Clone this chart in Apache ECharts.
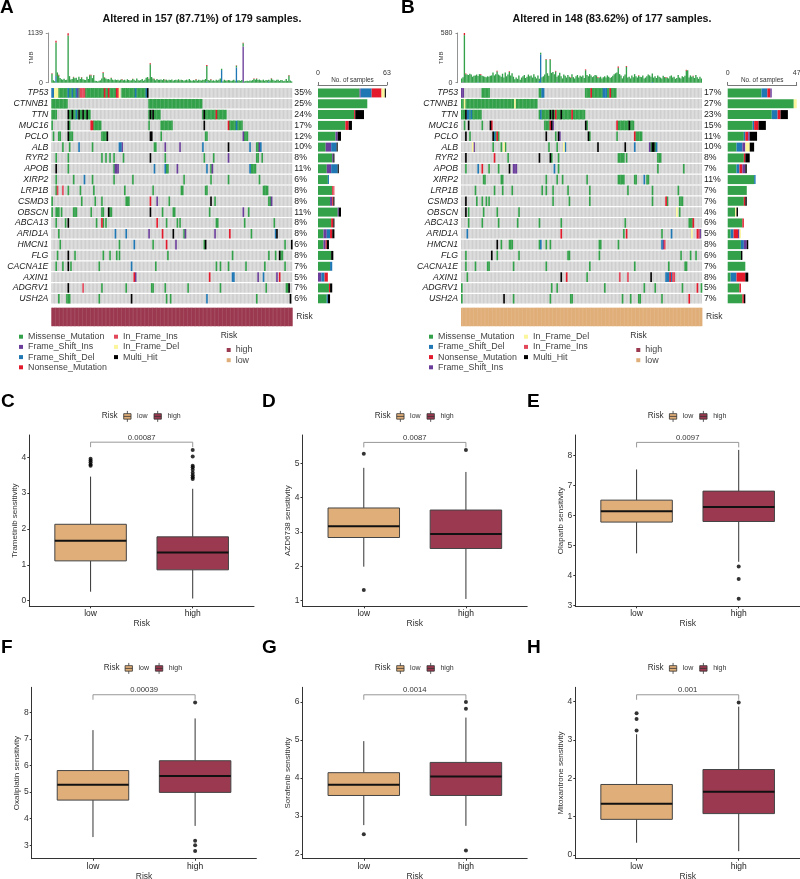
<!DOCTYPE html>
<html>
<head>
<meta charset="utf-8">
<title>Mutation landscape and drug sensitivity</title>
<style>
html, body { margin: 0; background: #fff; }
#main { width: 800px; height: 879px; }
</style>
<script src="https://cdn.jsdelivr.net/npm/echarts@6/dist/echarts.min.js"></script>
</head>
<body>
<div id="main"></div>
<script>
var genes = ["TP53","CTNNB1","TTN","MUC16","PCLO","ALB","RYR2","APOB","XIRP2","LRP1B","CSMD3","OBSCN","ABCA13","ARID1A","HMCN1","FLG","CACNA1E","AXIN1","ADGRV1","USH2A"];
var pctA = ["35%","25%","24%","17%","12%","10%","8%","11%","6%","8%","8%","11%","8%","8%","6%","8%","7%","5%","7%","6%"];
var pctB = ["17%","27%","23%","15%","11%","10%","8%","7%","11%","7%","7%","4%","6%","5%","8%","6%","7%","8%","5%","7%"];
var sampleCountA = 179;
var sampleCountB = 177;

// M missense, I frame ins, D frame del, N nonsense, F in frame ins, E in frame del, H multi hit
var typeNames = { M: "Missense_Mutation", I: "Frame_Shift_Ins", D: "Frame_Shift_Del", N: "Nonsense_Mutation", F: "In_Frame_Ins", E: "In_Frame_Del", H: "Multi_Hit" };
var typeColors = { M: "#33a04a", I: "#6a3d9a", D: "#1f78b4", N: "#e31a2c", F: "#e2475a", E: "#fbf59b", H: "#000000" };
var stackOrderA = ["M","I","D","N","F","E","H"];
var stackOrderB = ["M","D","N","I","F","E","H"];

// one list per gene, each run is [first sample, number of samples, type]
var mutA = [
  [[0,2,"D"],[2,3,"E"],[5,7,"M"],[12,1,"D"],[13,2,"M"],[15,1,"D"],[16,2,"M"],[18,1,"D"],[19,1,"I"],[20,1,"M"],[21,4,"F"],[25,14,"M"],[39,1,"N"],[40,2,"M"],[42,1,"N"],[43,5,"M"],[48,2,"N"],[50,1,"E"],[52,10,"M"],[62,1,"D"],[63,7,"M"],[70,1,"D"],[71,1,"H"]],
  [[0,12,"M"],[72,40,"M"]],
  [[0,4,"M"],[12,1,"H"],[13,2,"M"],[15,1,"H"],[16,2,"M"],[18,1,"D"],[19,1,"M"],[20,1,"H"],[21,2,"M"],[23,1,"H"],[24,2,"M"],[26,1,"H"],[27,2,"M"],[72,1,"M"],[73,1,"H"],[74,1,"M"],[75,1,"H"],[76,5,"M"],[112,1,"M"],[113,1,"H"],[114,8,"M"],[122,1,"N"],[123,7,"M"]],
  [[0,1,"M"],[12,1,"H"],[13,1,"M"],[29,2,"N"],[31,6,"M"],[72,1,"M"],[81,9,"M"],[113,1,"H"],[131,1,"N"],[132,5,"M"],[137,1,"D"],[138,4,"M"]],
  [[1,1,"M"],[5,2,"M"],[12,1,"H"],[13,3,"M"],[37,4,"M"],[41,1,"H"],[73,2,"H"],[81,1,"M"],[114,2,"M"],[142,1,"I"],[143,3,"M"]],
  [[8,1,"M"],[13,1,"M"],[20,1,"D"],[30,1,"M"],[50,2,"D"],[52,1,"I"],[76,2,"M"],[84,1,"I"],[95,1,"I"],[112,1,"D"],[131,1,"H"],[147,1,"D"],[152,2,"M"],[154,1,"I"],[155,1,"D"]],
  [[3,1,"M"],[12,1,"M"],[37,1,"M"],[40,1,"M"],[43,1,"M"],[46,1,"M"],[53,1,"M"],[73,1,"H"],[84,1,"M"],[113,1,"M"],[120,1,"M"],[131,1,"I"],[152,2,"M"],[156,1,"M"]],
  [[3,1,"H"],[12,1,"M"],[46,1,"M"],[47,3,"I"],[76,1,"D"],[84,1,"D"],[85,2,"M"],[93,1,"I"],[115,1,"D"],[118,1,"M"],[119,1,"I"],[147,1,"D"],[148,4,"M"]],
  [[3,1,"M"],[16,1,"M"],[24,1,"D"],[30,1,"M"],[46,1,"M"],[60,1,"M"],[98,1,"M"],[118,1,"M"],[131,1,"M"],[154,1,"M"]],
  [[3,1,"M"],[4,1,"F"],[8,1,"F"],[12,1,"M"],[21,1,"M"],[31,1,"M"],[54,1,"M"],[75,1,"M"],[96,2,"M"],[114,2,"M"],[157,4,"M"]],
  [[0,1,"M"],[22,1,"M"],[32,1,"M"],[37,1,"M"],[55,3,"M"],[73,1,"N"],[78,1,"I"],[87,1,"M"],[118,1,"H"],[121,1,"M"],[161,2,"M"],[163,1,"I"]],
  [[0,1,"M"],[3,3,"M"],[7,1,"M"],[16,3,"M"],[29,1,"M"],[37,2,"M"],[42,1,"H"],[43,2,"M"],[73,1,"H"],[82,1,"M"],[90,2,"M"],[117,1,"M"],[142,1,"I"],[146,1,"M"]],
  [[3,1,"M"],[10,1,"M"],[12,1,"H"],[33,1,"M"],[37,1,"N"],[38,1,"M"],[40,1,"M"],[78,1,"N"],[85,1,"M"],[93,1,"M"],[95,1,"M"],[122,2,"M"],[143,1,"M"],[165,1,"M"]],
  [[5,1,"M"],[47,1,"D"],[55,1,"D"],[72,1,"I"],[82,1,"N"],[90,1,"H"],[98,1,"M"],[99,1,"I"],[121,1,"I"],[132,1,"N"],[148,1,"M"],[166,1,"D"],[167,1,"H"]],
  [[6,1,"M"],[50,1,"M"],[61,1,"D"],[75,1,"M"],[85,1,"N"],[92,1,"I"],[113,1,"M"],[114,1,"H"],[173,1,"M"],[178,1,"H"]],
  [[4,1,"M"],[12,1,"H"],[17,1,"M"],[38,1,"M"],[43,1,"M"],[48,1,"M"],[50,1,"M"],[86,1,"M"],[134,1,"M"],[161,1,"M"],[166,1,"M"],[169,1,"H"],[170,2,"M"]],
  [[3,1,"M"],[8,1,"M"],[12,1,"H"],[14,1,"M"],[35,1,"M"],[59,1,"D"],[77,1,"M"],[122,1,"M"],[125,1,"M"],[131,1,"M"],[144,1,"M"],[158,1,"M"],[173,1,"M"]],
  [[61,1,"N"],[62,1,"I"],[117,1,"N"],[134,2,"D"],[153,1,"I"],[157,1,"D"],[167,1,"I"],[169,1,"N"]],
  [[12,1,"H"],[23,1,"F"],[37,1,"M"],[55,1,"M"],[74,2,"M"],[84,1,"M"],[101,1,"M"],[125,1,"M"],[159,1,"M"],[174,2,"M"],[176,1,"H"]],
  [[5,1,"M"],[11,3,"M"],[35,1,"M"],[59,1,"H"],[85,1,"M"],[88,1,"M"],[115,1,"D"],[152,1,"M"],[177,1,"H"]]
];
var mutB = [
  [[0,2,"I"],[15,6,"M"],[57,2,"M"],[59,2,"D"],[91,4,"M"],[95,1,"N"],[96,8,"M"],[104,3,"D"],[107,2,"M"],[109,1,"N"],[110,4,"M"]],
  [[0,2,"M"],[2,1,"E"],[3,36,"M"],[39,1,"E"],[40,16,"M"]],
  [[0,3,"M"],[3,1,"H"],[4,2,"D"],[6,1,"M"],[7,1,"D"],[8,7,"M"],[57,1,"M"],[58,1,"D"],[59,6,"M"],[65,1,"H"],[66,1,"M"],[67,1,"H"],[68,1,"M"],[69,1,"N"],[70,3,"M"],[73,1,"H"],[74,7,"M"],[81,1,"N"],[82,9,"M"]],
  [[2,1,"M"],[5,1,"H"],[15,1,"M"],[21,1,"H"],[22,1,"N"],[61,4,"M"],[65,1,"N"],[66,1,"H"],[67,1,"I"],[91,1,"H"],[92,1,"M"],[114,1,"N"],[115,8,"M"],[123,1,"H"],[124,3,"M"]],
  [[3,1,"H"],[6,1,"M"],[23,1,"H"],[24,1,"D"],[25,1,"M"],[26,1,"N"],[27,1,"M"],[62,1,"H"],[69,1,"M"],[71,1,"H"],[72,1,"I"],[93,1,"H"],[94,1,"M"],[114,1,"M"],[127,1,"N"],[128,5,"M"]],
  [[8,1,"E"],[9,1,"I"],[23,1,"M"],[29,1,"M"],[31,1,"E"],[32,1,"M"],[64,1,"M"],[70,1,"M"],[75,1,"E"],[76,1,"D"],[100,1,"H"],[120,1,"H"],[127,1,"D"],[138,1,"I"],[139,1,"M"],[140,2,"H"],[142,1,"M"],[143,1,"D"]],
  [[3,1,"H"],[24,1,"N"],[34,1,"M"],[57,1,"H"],[65,1,"H"],[66,1,"M"],[71,1,"M"],[115,5,"M"],[121,1,"M"],[144,3,"M"]],
  [[3,1,"M"],[12,1,"D"],[15,1,"N"],[20,1,"M"],[27,1,"M"],[35,1,"H"],[38,3,"I"],[68,1,"D"],[71,1,"M"],[144,1,"M"],[163,1,"M"]],
  [[16,2,"M"],[29,2,"M"],[62,1,"M"],[70,1,"M"],[74,1,"M"],[92,1,"M"],[115,5,"M"],[127,2,"M"],[134,1,"D"],[136,2,"M"]],
  [[10,1,"M"],[24,1,"M"],[30,1,"M"],[37,1,"M"],[59,1,"M"],[62,1,"M"],[67,1,"M"],[78,1,"M"],[94,1,"M"],[122,1,"M"],[140,1,"M"],[159,1,"M"]],
  [[3,1,"H"],[11,1,"M"],[15,1,"M"],[18,1,"M"],[20,1,"M"],[67,1,"M"],[79,1,"M"],[94,1,"M"],[140,1,"M"],[150,1,"N"],[151,1,"M"],[160,3,"M"]],
  [[3,1,"H"],[5,1,"M"],[16,1,"M"],[26,1,"M"],[42,1,"M"],[158,1,"E"],[160,1,"M"]],
  [[5,1,"M"],[15,1,"M"],[27,1,"M"],[41,1,"M"],[57,1,"M"],[73,1,"M"],[120,1,"M"],[167,3,"M"],[170,1,"N"]],
  [[4,1,"D"],[73,1,"N"],[119,1,"M"],[121,1,"N"],[147,1,"M"],[154,1,"D"],[169,1,"E"],[173,1,"N"],[174,1,"F"],[175,1,"I"]],
  [[26,1,"H"],[29,1,"M"],[35,3,"M"],[57,1,"M"],[58,1,"D"],[62,1,"M"],[65,1,"M"],[101,2,"M"],[115,1,"M"],[147,1,"D"],[148,1,"I"],[149,1,"F"]],
  [[3,1,"M"],[22,1,"H"],[26,1,"M"],[42,1,"M"],[78,2,"M"],[101,1,"M"],[161,1,"M"],[168,1,"M"],[172,1,"M"]],
  [[3,1,"M"],[10,1,"M"],[19,2,"M"],[38,1,"M"],[62,1,"M"],[94,1,"M"],[127,1,"M"],[152,1,"M"],[164,2,"M"]],
  [[4,1,"M"],[73,1,"H"],[77,1,"N"],[92,1,"M"],[116,1,"F"],[122,1,"F"],[139,1,"H"],[150,3,"D"],[153,1,"N"],[154,1,"D"],[155,2,"F"]],
  [[0,1,"M"],[66,1,"M"],[70,1,"M"],[105,1,"M"],[134,1,"M"],[142,1,"M"],[162,1,"M"],[173,1,"N"],[176,1,"M"]],
  [[0,1,"M"],[31,1,"H"],[38,1,"M"],[65,1,"M"],[80,2,"M"],[118,1,"M"],[124,1,"M"],[130,2,"M"],[147,1,"M"],[167,1,"N"]]
];

// samples per gene and type, side bars
var countsA = {
  M: [38,45,33,25,16,7,13,8,9,13,11,18,12,5,5,12,11,0,10,8],
  I: [1,0,0,0,2,5,1,4,0,0,2,1,0,3,2,0,0,3,0,0],
  D: [10,0,0,0,0,5,0,6,1,0,0,0,0,3,0,0,2,3,0,1],
  N: [9,0,1,3,0,0,0,0,0,1,1,0,2,2,1,0,0,3,1,0],
  F: [0,0,0,0,0,0,0,0,0,1,0,0,0,0,0,0,0,0,0,0],
  E: [3,0,0,0,0,0,0,0,0,0,0,0,0,0,0,0,0,0,0,0],
  H: [1,0,8,3,3,1,1,1,0,0,1,2,1,2,2,2,0,0,2,2]
};
var countsB = {
  M: [23,45,30,17,11,6,11,6,18,13,11,5,10,2,9,9,12,2,8,10],
  D: [4,0,4,1,1,4,0,2,1,0,0,0,0,2,2,0,0,4,0,0],
  N: [2,0,2,3,2,0,1,2,0,0,1,0,1,3,0,0,0,6,1,1],
  I: [1,0,0,0,1,2,0,2,0,0,0,0,0,1,2,0,0,0,0,0],
  F: [0,0,0,0,0,0,0,0,0,0,0,0,0,0,0,0,0,0,0,0],
  E: [0,2,0,0,0,3,0,0,0,0,0,1,0,1,0,0,0,0,0,0],
  H: [0,0,5,5,5,3,3,1,0,0,1,1,0,0,1,1,0,2,0,1]
};

// mutation load per sample, missense part
var tmbGreenA = [
  205,55,35,770,235,165,105,80,70,90,
  60,65,1080,150,75,85,125,100,115,65,
  135,85,120,80,65,60,135,85,170,170,
  105,170,45,40,30,45,55,95,225,115,
  95,80,85,65,105,70,55,75,60,65,
  50,70,75,55,65,45,80,60,50,55,
  85,65,45,95,55,50,60,85,45,65,
  115,130,85,420,130,95,80,55,85,65,
  70,75,60,85,55,70,50,65,60,75,
  45,60,70,55,80,50,65,60,45,55,
  70,50,85,55,40,60,50,75,45,65,
  55,50,70,60,85,355,60,50,75,45,
  55,40,65,50,70,95,30,35,65,50,
  45,60,55,40,50,65,45,40,50,55,
  40,60,75,30,40,45,35,50,45,60,
  85,70,90,60,75,55,50,70,45,60,
  55,40,50,95,65,50,45,65,70,40,
  60,55,35,45,85,40,165,50,30
];
var tmbGreenB = [
  50,55,555,100,95,90,105,95,70,80,
  85,95,70,100,90,80,75,70,65,75,
  70,80,85,120,85,100,130,95,85,70,
  105,60,120,75,95,125,85,110,70,40,
  60,45,85,35,60,75,90,55,70,95,
  75,85,60,100,70,50,85,25,20,65,
  75,95,270,110,80,270,115,125,100,130,
  60,85,115,75,50,95,80,60,90,70,
  55,100,65,50,75,90,60,80,70,85,
  55,145,90,75,100,85,65,75,90,85,
  55,60,70,50,65,75,60,85,70,55,
  65,80,100,110,120,175,100,85,50,75,
  95,185,60,70,50,85,65,100,75,60,
  80,70,65,85,50,60,75,95,85,70,
  100,60,75,55,85,70,60,50,80,65,
  55,60,50,75,85,60,70,45,55,90,
  60,50,75,65,80,140,145,60,85,70,
  75,55,90,65,45,70,50
];
// other classes stacked with the missense part, [sample, value]
var tmbBlueA = [[3,154],[115,30],[126,290],[137,350],[161,30]];
var tmbPurpleA = [[142,830]];
var tmbRedA = [[0,10],[3,36],[5,15],[12,55],[16,10],[22,10],[28,12],[29,10],[31,8],[38,15],[39,10],[44,10],[52,10],[60,8],[72,8],[73,25],[76,10],[84,10],[95,8],[107,10],[115,20],[118,8],[130,8],[137,8],[142,10],[150,10],[152,8],[163,8],[176,10]];
var tmbBlueB = [[57,20],[58,330],[12,8],[140,8]];
var tmbPurpleB = [[1,8],[70,8]];
var tmbRedB = [[2,25],[3,8],[14,8],[26,8],[35,8],[62,8],[65,8],[69,8],[80,6],[91,10],[100,8],[115,15],[121,10],[130,8],[150,8],[165,10],[170,6]];
var tmbTicksA = [0, 1139];
var tmbTicksB = [0, 580];

var riskGroups = ["low", "high"];
var riskColors = { low: "#e0ae78", high: "#9b3950" };

// whisker low, q1, median, q3, whisker high
var trametinibLow = [0.25,1.11,1.67,2.13,3.46];
var trametinibHigh = [0.06,0.86,1.34,1.78,3.12];
var trametinibOutLow = [3.76,3.8,3.86,3.91,3.96];
var trametinibOutHigh = [3.39,3.44,3.5,3.57,3.65,3.72,3.76,4.02,4.2];
var azdLow = [1.99,2.84,3.17,3.7,4.87];
var azdHigh = [1.05,2.52,2.94,3.64,4.75];
var azdOutLow = [1.31,5.28];
var azdOutHigh = [5.39];
var olaparibLow = [4.74,5.78,6.14,6.51,7.53];
var olaparibHigh = [4.46,5.8,6.28,6.81,8.18];
var olaparibOutLow = [];
var olaparibOutHigh = [3.23,3.89,4.3];
var oxaliplatinLow = [3.31,4.7,5.28,5.81,7.33];
var oxaliplatinHigh = [3.73,4.99,5.61,6.18,7.77];
var oxaliplatinOutLow = [];
var oxaliplatinOutHigh = [2.79,3.0,3.17,8.37];
var sorafenibLow = [2.76,3.54,3.82,4.14,4.97];
var sorafenibHigh = [2.74,3.54,4.04,4.41,5.59];
var sorafenibOutLow = [2.52];
var sorafenibOutHigh = [2.09,5.82,6.0];
var mitoxantroneLow = [0.32,0.93,1.34,1.84,3.15];
var mitoxantroneHigh = [0.1,1.08,1.65,2.23,3.87];
var mitoxantroneOutLow = [3.25,3.55,3.7];
var mitoxantroneOutHigh = [3.98];

var FONT = '"Liberation Sans", Arial, sans-serif';
var boxIcon = "path://M1 3H9V9H1Z M5 0V3 M5 9V12 M1 6H9";

var chart = echarts.init(document.getElementById("main"), null, { renderer: "canvas" });
var grids = [], xAxes = [], yAxes = [], series = [], legends = [], texts = [];

function addGrid(box) {
  // v6 would otherwise squeeze a grid whose axis name reaches the page edge
  box.outerBoundsMode = "none";
  grids.push(box);
  return grids.length - 1;
}

function addText(text, x, y, size, opts) {
  opts = opts || {};
  texts.push({
    type: "text", x: x, y: y, silent: true,
    style: { text: text, fontFamily: FONT, fontSize: size, fontWeight: opts.weight || "normal", fill: opts.color || "#333",
      textAlign: opts.align || "left", textVerticalAlign: "middle" }
  });
}

// widen is added to the cell width: negative leaves a faint gap, positive closes it
function cellRender(color, inset, widen) {
  return function (params, api) {
    var c = api.coord([api.value(0), api.value(1)]);
    var s = api.size([1, 1]);
    return {
      type: "rect",
      shape: { x: c[0] - s[0] / 2, y: c[1] - s[1] / 2 + inset, width: s[0] + widen, height: s[1] - inset * 2 },
      style: { fill: color }
    };
  };
}

function sparse(pairs, n) {
  var out = new Array(n).fill(0);
  pairs.forEach(function (p) { out[p[0]] = p[1]; });
  return out;
}

function oncoPanel(p) {
  var samples = [];
  for (var i = 0; i < p.n; i++) samples.push(String(i));

  // TMB bars on top
  var g = addGrid({ left: p.left, top: 33, width: 241, height: 49.7 });
  xAxes.push({ gridIndex: g, type: "category", data: samples, axisLine: { show: false }, axisTick: { show: false }, axisLabel: { show: false } });
  yAxes.push({
    gridIndex: g, type: "value", min: 0, max: p.tmbTicks[1], offset: 3.5,
    name: "TMB", nameLocation: "middle", nameGap: 13.5, nameMoveOverlap: false, nameTextStyle: { fontFamily: FONT, fontSize: 6, color: "#444" },
    splitLine: { show: false },
    axisLine: { show: true, lineStyle: { color: "#777", width: 0.8 } },
    axisTick: { show: true, length: 2, lineStyle: { color: "#777", width: 0.8 }, customValues: p.tmbTicks },
    axisLabel: { fontFamily: FONT, fontSize: 7, color: "#333", margin: 5, customValues: p.tmbTicks, formatter: function (v) { return String(v); } }
  });
  [["I", p.tmbPurple], ["D", p.tmbBlue], ["M", null], ["N", p.tmbRed]].forEach(function (t) {
    series.push({
      type: "bar", name: typeNames[t[0]], xAxisIndex: g, yAxisIndex: yAxes.length - 1, stack: "tmb" + p.key, barWidth: 1.35, silent: true,
      data: t[1] ? sparse(t[1], p.n) : p.tmbGreen, itemStyle: { color: typeColors[t[0]] }
    });
  });

  // mutation matrix
  g = addGrid({ left: p.left, top: 87.5, width: 241, height: 216.7 });
  xAxes.push({ gridIndex: g, type: "category", data: samples, axisLine: { show: false }, axisTick: { show: false }, axisLabel: { show: false } });
  var yIdx = yAxes.length;
  yAxes.push({
    gridIndex: g, type: "category", data: genes, inverse: true, axisLine: { show: false }, axisTick: { show: false },
    axisLabel: { fontFamily: FONT, fontSize: 8.7, fontStyle: "italic", color: "#222", margin: 3, interval: 0 }
  });
  yAxes.push({
    gridIndex: g, type: "category", data: p.pct, inverse: true, position: "right", axisLine: { show: false }, axisTick: { show: false },
    axisLabel: { fontFamily: FONT, fontSize: 8.7, color: "#222", margin: 2, interval: 0 }
  });

  var cells = { M: [], I: [], D: [], N: [], F: [], E: [], H: [] };
  var taken = {};
  p.mut.forEach(function (runs, row) {
    runs.forEach(function (r) {
      for (var k = r[0]; k < r[0] + r[1] && k < p.n; k++) {
        cells[r[2]].push([k, row]);
        taken[k + "_" + row] = true;
      }
    });
  });
  var blanks = [];
  genes.forEach(function (gene, row) {
    for (var k = 0; k < p.n; k++) {
      if (!taken[k + "_" + row]) blanks.push([k, row]);
    }
  });
  series.push({ type: "custom", name: "none", xAxisIndex: g, yAxisIndex: yIdx, data: blanks, silent: true, progressive: 0, renderItem: cellRender("#cfcfcf", 0.6, -0.1) });
  Object.keys(cells).forEach(function (t) {
    series.push({
      type: "custom", name: typeNames[t], xAxisIndex: g, yAxisIndex: yIdx, data: cells[t], silent: true, progressive: 0,
      itemStyle: { color: typeColors[t] }, renderItem: cellRender(typeColors[t], 0.6, 0.3)
    });
  });

  // samples per gene on the right
  g = addGrid({ left: p.barLeft, top: 87.5, width: 69, height: 216.7 });
  xAxes.push({
    gridIndex: g, type: "value", position: "top", min: 0, max: p.barMax, interval: p.barMax, offset: 2.5,
    name: "No. of samples", nameLocation: "middle", nameGap: 2.1, nameMoveOverlap: false, nameTextStyle: { fontFamily: FONT, fontSize: 6.4, color: "#333" },
    splitLine: { show: false },
    axisLine: { show: true, lineStyle: { color: "#555", width: 0.8 } },
    axisTick: { show: true, length: 3, lineStyle: { color: "#555", width: 0.8 } },
    axisLabel: { fontFamily: FONT, fontSize: 7, color: "#333", margin: 8 }
  });
  yAxes.push({ gridIndex: g, type: "category", data: genes, inverse: true, axisLine: { show: false }, axisTick: { show: false }, axisLabel: { show: false } });
  p.stackOrder.forEach(function (t) {
    series.push({
      type: "bar", name: typeNames[t], xAxisIndex: xAxes.length - 1, yAxisIndex: yAxes.length - 1, stack: "count" + p.key, barWidth: 9, silent: true,
      data: p.counts[t], itemStyle: { color: typeColors[t] }
    });
  });

  // risk annotation band
  g = addGrid({ left: p.left, top: 307.7, width: 241, height: 18.5 });
  xAxes.push({ gridIndex: g, type: "category", data: samples, axisLine: { show: false }, axisTick: { show: false }, axisLabel: { show: false } });
  yAxes.push({
    gridIndex: g, type: "category", data: ["Risk"], position: "right", axisLine: { show: false }, axisTick: { show: false },
    axisLabel: { fontFamily: FONT, fontSize: 8.5, color: "#333", margin: 4 }
  });
  series.push({
    type: "custom", name: p.risk, xAxisIndex: g, yAxisIndex: yAxes.length - 1, silent: true, progressive: 0,
    data: samples.map(function (s, i) { return [i, 0]; }),
    itemStyle: { color: riskColors[p.risk] }, renderItem: cellRender(riskColors[p.risk], 0, 0.4)
  });

  addText(p.title, p.titleX, 19, 10.7, { weight: "bold", align: "center", color: "#111" });
  addText("Risk", p.riskX, 336, 8.5);
  p.legendCols.forEach(function (col, n) {
    legends.push({
      left: p.legendX[n], top: 331.7, orient: "vertical", padding: 0, itemWidth: 4, itemHeight: 4, itemGap: 0.2, icon: "rect", selectedMode: false,
      data: col.map(function (t) { return typeNames[t]; }),
      textStyle: { fontFamily: FONT, fontSize: 8.9, color: "#444", height: 10, lineHeight: 10 }
    });
  });
  legends.push({
    left: p.riskX + 6, top: 345, orient: "vertical", padding: 0, itemWidth: 4, itemHeight: 4, itemGap: 0.2, icon: "rect", selectedMode: false,
    data: ["high", "low"],
    textStyle: { fontFamily: FONT, fontSize: 8.9, color: "#444", height: 10, lineHeight: 10 }
  });
}

function boxRender(color) {
  return function (params, api) {
    var x = api.value(0);
    var lo = api.coord([x, api.value(1)]);
    var q1 = api.coord([x, api.value(2)]);
    var med = api.coord([x, api.value(3)]);
    var q3 = api.coord([x, api.value(4)]);
    var hi = api.coord([x, api.value(5)]);
    var w = api.size([0.7, 0])[0];
    var line = { stroke: "#333", lineWidth: 1 };
    return {
      type: "group",
      children: [
        { type: "line", shape: { x1: lo[0], y1: lo[1], x2: lo[0], y2: q1[1] }, style: line },
        { type: "line", shape: { x1: hi[0], y1: hi[1], x2: hi[0], y2: q3[1] }, style: line },
        { type: "rect", shape: { x: q3[0] - w / 2, y: q3[1], width: w, height: q1[1] - q3[1] }, style: { fill: color, stroke: "#444", lineWidth: 1 } },
        { type: "line", shape: { x1: med[0] - w / 2, y1: med[1], x2: med[0] + w / 2, y2: med[1] }, style: { stroke: "#111", lineWidth: 2 } }
      ]
    };
  };
}

function bracketRender(label) {
  return function (params, api) {
    var a = api.coord([api.value(0), api.value(2)]);
    var b = api.coord([api.value(1), api.value(2)]);
    return {
      type: "group",
      children: [
        { type: "polyline", shape: { points: [[a[0], a[1] + 5], a, b, [b[0], b[1] + 5]] }, style: { stroke: "#8c8c8c", lineWidth: 0.9, fill: "none" } },
        { type: "text", x: (a[0] + b[0]) / 2, y: a[1] - 0.5, style: { text: label, fontFamily: FONT, fontSize: 7.7, fill: "#333", textAlign: "center", textVerticalAlign: "bottom" } }
      ]
    };
  };
}

function boxPanel(p) {
  var g = addGrid({ left: p.left, top: p.top, width: 224.7, height: p.height });
  xAxes.push({
    gridIndex: g, type: "value", min: 0.4, max: 2.6,
    name: "Risk", nameLocation: "middle", nameGap: 13, nameMoveOverlap: false, nameTextStyle: { fontFamily: FONT, fontSize: 8.5, color: "#333" },
    splitLine: { show: false },
    axisLine: { show: true, onZero: false, lineStyle: { color: "#333", width: 1 } },
    axisTick: { show: true, length: 2, lineStyle: { color: "#333" }, customValues: [1, 2] },
    axisLabel: {
      fontFamily: FONT, fontSize: 8.5, color: "#222", margin: 3, customValues: [1, 2],
      formatter: function (v) { return riskGroups[v - 1]; }
    }
  });
  yAxes.push({
    gridIndex: g, type: "value", min: p.range[0], max: p.range[1],
    name: p.yName, nameLocation: "middle", nameGap: 11, nameMoveOverlap: false, nameTextStyle: { fontFamily: FONT, fontSize: 8, color: "#333" },
    splitLine: { show: false },
    axisLine: { show: true, onZero: false, lineStyle: { color: "#333", width: 1 } },
    axisTick: { show: true, length: 2, lineStyle: { color: "#333" }, customValues: p.ticks },
    axisLabel: { fontFamily: FONT, fontSize: 8.5, color: "#333", margin: 3, customValues: p.ticks }
  });
  var a = xAxes.length - 1, b = yAxes.length - 1;
  riskGroups.forEach(function (group, n) {
    series.push({
      type: "custom", name: group, xAxisIndex: a, yAxisIndex: b, silent: true,
      encode: { x: 0, y: [1, 2, 3, 4, 5] },
      data: [[n + 1].concat(p.boxes[n])],
      itemStyle: { color: riskColors[group] },
      renderItem: boxRender(riskColors[group])
    });
    series.push({
      type: "scatter", name: group + " outliers", xAxisIndex: a, yAxisIndex: b, silent: true, symbolSize: 4,
      data: p.outliers[n].map(function (v) { return [n + 1, v]; }),
      itemStyle: { color: "#000" }
    });
  });
  series.push({
    type: "custom", name: "p value", xAxisIndex: a, yAxisIndex: b, silent: true, clip: false,
    encode: { x: [0, 1], y: 2 }, data: [[1, 2, p.bracket]], renderItem: bracketRender(p.pValue)
  });

  addText(p.letter, p.letterX, p.letterY, 19, { weight: "bold", color: "#000" });
  addText("Risk", p.riskX, p.legendY, 8.2);
  legends.push({
    left: p.iconX, top: p.legendY - 5.5, padding: 0, itemWidth: 9.5, itemHeight: 11, itemGap: 6, icon: boxIcon, selectedMode: false,
    data: riskGroups,
    itemStyle: { borderColor: "#333", borderWidth: 0.8 },
    textStyle: { fontFamily: FONT, fontSize: 7, color: "#333" }
  });
}

oncoPanel({
  key: "A", n: sampleCountA, left: 51.3, barLeft: 318, barMax: 63, title: "Altered in 157 (87.71%) of 179 samples.", titleX: 202,
  pct: pctA, mut: mutA, counts: countsA, stackOrder: stackOrderA, risk: "high", riskX: 220.7,
  tmbGreen: tmbGreenA, tmbBlue: tmbBlueA, tmbPurple: tmbPurpleA, tmbRed: tmbRedA, tmbTicks: tmbTicksA,
  legendX: [19, 114], legendCols: [["M","I","D","N"], ["F","E","H"]]
});
oncoPanel({
  key: "B", n: sampleCountB, left: 461, barLeft: 727.7, barMax: 47, title: "Altered in 148 (83.62%) of 177 samples.", titleX: 612,
  pct: pctB, mut: mutB, counts: countsB, stackOrder: stackOrderB, risk: "low", riskX: 630.3,
  tmbGreen: tmbGreenB, tmbBlue: tmbBlueB, tmbPurple: tmbPurpleB, tmbRed: tmbRedB, tmbTicks: tmbTicksB,
  legendX: [429, 524], legendCols: [["M","D","N","I"], ["E","F","H"]]
});
addText("A", 0, 8, 19, { weight: "bold", color: "#000" });
addText("B", 401, 8, 19, { weight: "bold", color: "#000" });

boxPanel({ letter: "C", letterX: 1, letterY: 401.5, left: 29.3, top: 435, height: 171.3, range: [-0.157, 4.62], ticks: [0,1,2,3,4],
  yName: "Trametinib sensitivity", boxes: [trametinibLow, trametinibHigh], outliers: [trametinibOutLow, trametinibOutHigh], bracket: 4.42, pValue: "0.00087",
  riskX: 101.7, iconX: 123.3, legendY: 416 });
boxPanel({ letter: "D", letterX: 262, letterY: 401.5, left: 302.5, top: 435, height: 171.3, range: [0.836, 5.826], ticks: [1,2,3,4,5],
  yName: "AZD6738 sensitivity", boxes: [azdLow, azdHigh], outliers: [azdOutLow, azdOutHigh], bracket: 5.61, pValue: "0.0087",
  riskX: 374.7, iconX: 396.3, legendY: 416 });
boxPanel({ letter: "E", letterX: 527, letterY: 401.5, left: 575.3, top: 435, height: 171.3, range: [2.98, 8.676], ticks: [3,4,5,6,7,8],
  yName: "Olaparib sensitivity", boxes: [olaparibLow, olaparibHigh], outliers: [olaparibOutLow, olaparibOutHigh], bracket: 8.43, pValue: "0.0097",
  riskX: 647.7, iconX: 669, legendY: 416 });
boxPanel({ letter: "F", letterX: 1, letterY: 648, left: 31.7, top: 687.3, height: 171.4, range: [2.497, 8.94], ticks: [3,4,5,6,7,8],
  yName: "Oxaliplatin sensitivity", boxes: [oxaliplatinLow, oxaliplatinHigh], outliers: [oxaliplatinOutLow, oxaliplatinOutHigh], bracket: 8.66, pValue: "0.00039",
  riskX: 103.7, iconX: 124.7, legendY: 668 });
boxPanel({ letter: "G", letterX: 262, letterY: 648, left: 302.5, top: 687.3, height: 171.4, range: [1.876, 6.387], ticks: [2,3,4,5,6],
  yName: "Sorafenib sensitivity", boxes: [sorafenibLow, sorafenibHigh], outliers: [sorafenibOutLow, sorafenibOutHigh], bracket: 6.19, pValue: "0.0014",
  riskX: 374.7, iconX: 396.3, legendY: 668 });
boxPanel({ letter: "H", letterX: 527, letterY: 648, left: 575.3, top: 687.3, height: 171.4, range: [-0.0965, 4.375], ticks: [0,1,2,3,4],
  yName: "Mitoxantrone sensitivity", boxes: [mitoxantroneLow, mitoxantroneHigh], outliers: [mitoxantroneOutLow, mitoxantroneOutHigh], bracket: 4.18, pValue: "0.001",
  riskX: 647.7, iconX: 669, legendY: 668 });

chart.setOption({
  animation: false,
  backgroundColor: "#fff",
  textStyle: { fontFamily: FONT },
  grid: grids,
  xAxis: xAxes,
  yAxis: yAxes,
  legend: legends,
  series: series,
  graphic: { elements: texts }
});
</script>
</body>
</html>
